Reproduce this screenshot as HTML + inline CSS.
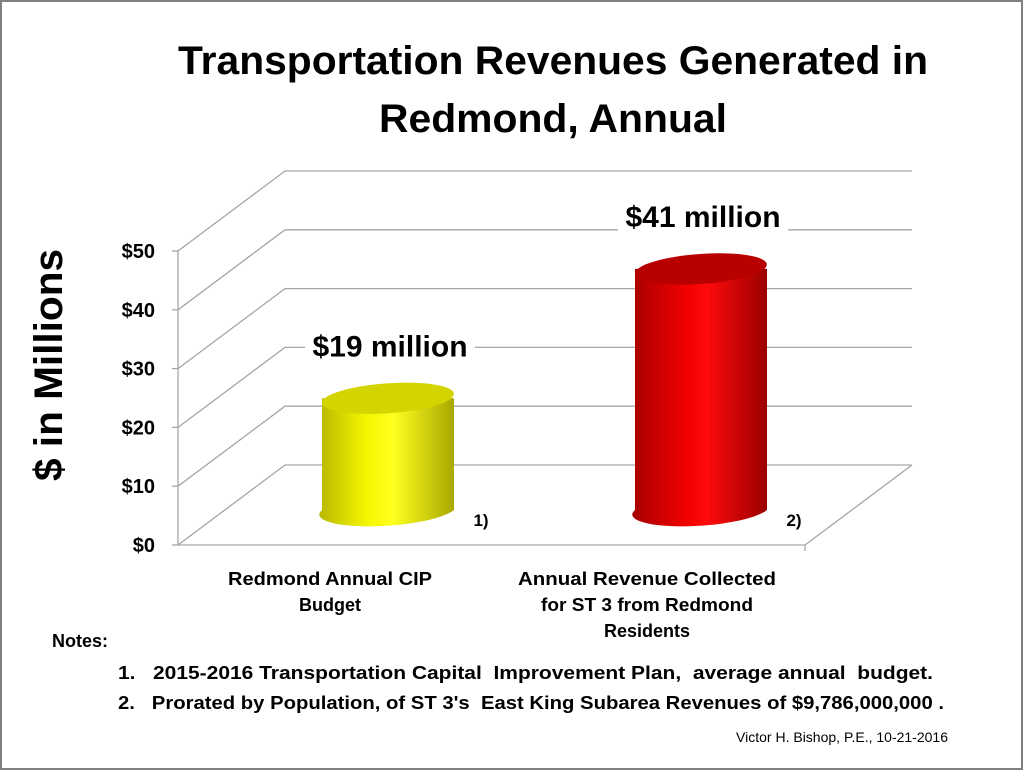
<!DOCTYPE html>
<html><head><meta charset="utf-8"><style>
body{margin:0;background:#fff;}
#wrap{position:relative;width:1024px;height:771px;overflow:hidden;background:#fff;}
svg text{font-family:"Liberation Sans",Calibri,sans-serif;white-space:pre;}
</style></head><body>
<div id="wrap">
<svg id="chart" width="1024" height="771" viewBox="0 0 1024 771">
<defs>
<linearGradient id="gy" x1="0" x2="1" y1="0" y2="0">
<stop offset="0" stop-color="#b8b800"/><stop offset="0.35" stop-color="#f5f500"/><stop offset="0.55" stop-color="#ffff20"/><stop offset="1" stop-color="#a8a800"/></linearGradient>
<linearGradient id="gr" x1="0" x2="1" y1="0" y2="0">
<stop offset="0" stop-color="#a80000"/><stop offset="0.4" stop-color="#f00000"/><stop offset="0.55" stop-color="#ff0a0a"/><stop offset="1" stop-color="#9a0000"/></linearGradient>
</defs>
<rect x="1" y="1" width="1021" height="768" fill="none" stroke="#7f7f7f" stroke-width="2"/>
<text x="553" y="74" font-size="40" font-weight="bold" text-anchor="middle" textLength="750" lengthAdjust="spacingAndGlyphs">Transportation Revenues Generated in</text>
<text x="553" y="132" font-size="40" font-weight="bold" text-anchor="middle" textLength="348" lengthAdjust="spacingAndGlyphs">Redmond, Annual</text>
<g id="grid"></g>
<g id="bars"></g>
<text transform="translate(62,365) rotate(-90)" font-size="40" font-weight="bold" text-anchor="middle" textLength="232" lengthAdjust="spacingAndGlyphs">$ in Millions</text>
<text x="330" y="585" font-size="18" font-weight="bold" text-anchor="middle" textLength="204" lengthAdjust="spacingAndGlyphs">Redmond Annual CIP</text>
<text x="330" y="611" font-size="18" font-weight="bold" text-anchor="middle">Budget</text>
<text x="647" y="585" font-size="18" font-weight="bold" text-anchor="middle" textLength="258" lengthAdjust="spacingAndGlyphs">Annual Revenue Collected</text>
<text x="647" y="611" font-size="18" font-weight="bold" text-anchor="middle" textLength="212" lengthAdjust="spacingAndGlyphs">for ST 3 from Redmond</text>
<text x="647" y="637" font-size="18" font-weight="bold" text-anchor="middle">Residents</text>
<text x="52" y="647" font-size="18" font-weight="bold">Notes:</text>
<text x="118" y="679" font-size="18" font-weight="bold" textLength="815" lengthAdjust="spacingAndGlyphs">1.   2015-2016 Transportation Capital  Improvement Plan,  average annual  budget.</text>
<text x="118" y="709" font-size="18" font-weight="bold" textLength="826" lengthAdjust="spacingAndGlyphs">2.   Prorated by Population, of ST 3's  East King Subarea Revenues of $9,786,000,000 .</text>
<text x="948" y="742" font-size="14" text-anchor="end">Victor H. Bishop, P.E., 10-21-2016</text>
</svg>
</div>
<script>
const ticks=[0,10,20,30,40,50];
const tickLabels=["$0","$10","$20","$30","$40","$50"];
const categories=["Redmond Annual CIP Budget","Annual Revenue Collected for ST 3 from Redmond Residents"];
const values=[19,41];
const valueLabels=["$19 million","$41 million"];
const footnotes=["1)","2)"];
const NS="http://www.w3.org/2000/svg";
const fx0=178,fx1=805,fy0=545,pxU=5.88,dx=107,dy=-80;
function yF(v){return fy0-v*pxU;}
function yBar(v){return 510-v*pxU;}
function mk(t,a,p){const e=document.createElementNS(NS,t);for(const k in a)e.setAttribute(k,a[k]);p.appendChild(e);return e;}
const g=document.getElementById('grid');
ticks.forEach((t,i)=>{
 const y=yF(t);
 const l=mk('polyline',{points:`${fx0},${y} ${fx0+dx},${y+dy} ${fx1+dx},${y+dy}`,fill:'none',stroke:'#a6a6a6','stroke-width':1.3},g);
 
 
 const tk=mk('line',{x1:fx0-6,y1:y,x2:fx0,y2:y,stroke:'#a6a6a6','stroke-width':1.3},g);
 
 
 const tx=mk('text',{x:155,y:y+7,'font-size':20,'font-weight':'bold','text-anchor':'end'},g);
 tx.textContent=tickLabels[i];
 
 
});
const ax=mk('polyline',{points:`${fx0},${yF(50)} ${fx0},${fy0} ${fx1},${fy0} ${fx1+dx},${fy0+dy}`,fill:'none',stroke:'#a6a6a6','stroke-width':1.3},g);


const xt=mk('line',{x1:fx1,y1:fy0,x2:fx1,y2:fy0+6,stroke:'#a6a6a6','stroke-width':1.3},g);


const b=document.getElementById('bars');
const centers=[388,701],rx=66,ry=15;
const fills=['url(#gy)','url(#gr)'],tops=['#d4d400','#b80000'];
values.forEach((v,i)=>{
 const cx=centers[i],yb=yBar(0),yt=yBar(v);
 const grp=mk('g',{},b);
 
 
 mk('path',{d:`M${cx-rx},${yt} L${cx-rx},${yb} A${rx},${ry} -4 0 0 ${cx+rx},${yb} L${cx+rx},${yt} Z`,fill:fills[i]},grp);
 mk('ellipse',{cx:cx,cy:yt,rx:rx,ry:ry,fill:tops[i],transform:`rotate(-4 ${cx} ${yt})`},grp);
 const lx=cx+2,ly=yt-42;
 const bg=mk('rect',{x:lx-85,y:ly-30,width:170,height:40,fill:'#fff'},b);
 
 
 const t=mk('text',{x:lx,y:ly,'font-size':30,'font-weight':'bold','text-anchor':'middle'},b);
 t.textContent=valueLabels[i];
 
 
 const f=mk('text',{x:cx+93,y:yb+16,'font-size':17,'font-weight':'bold','text-anchor':'middle'},b);
 f.textContent=footnotes[i];
 
 
});
</script>
</body></html>
